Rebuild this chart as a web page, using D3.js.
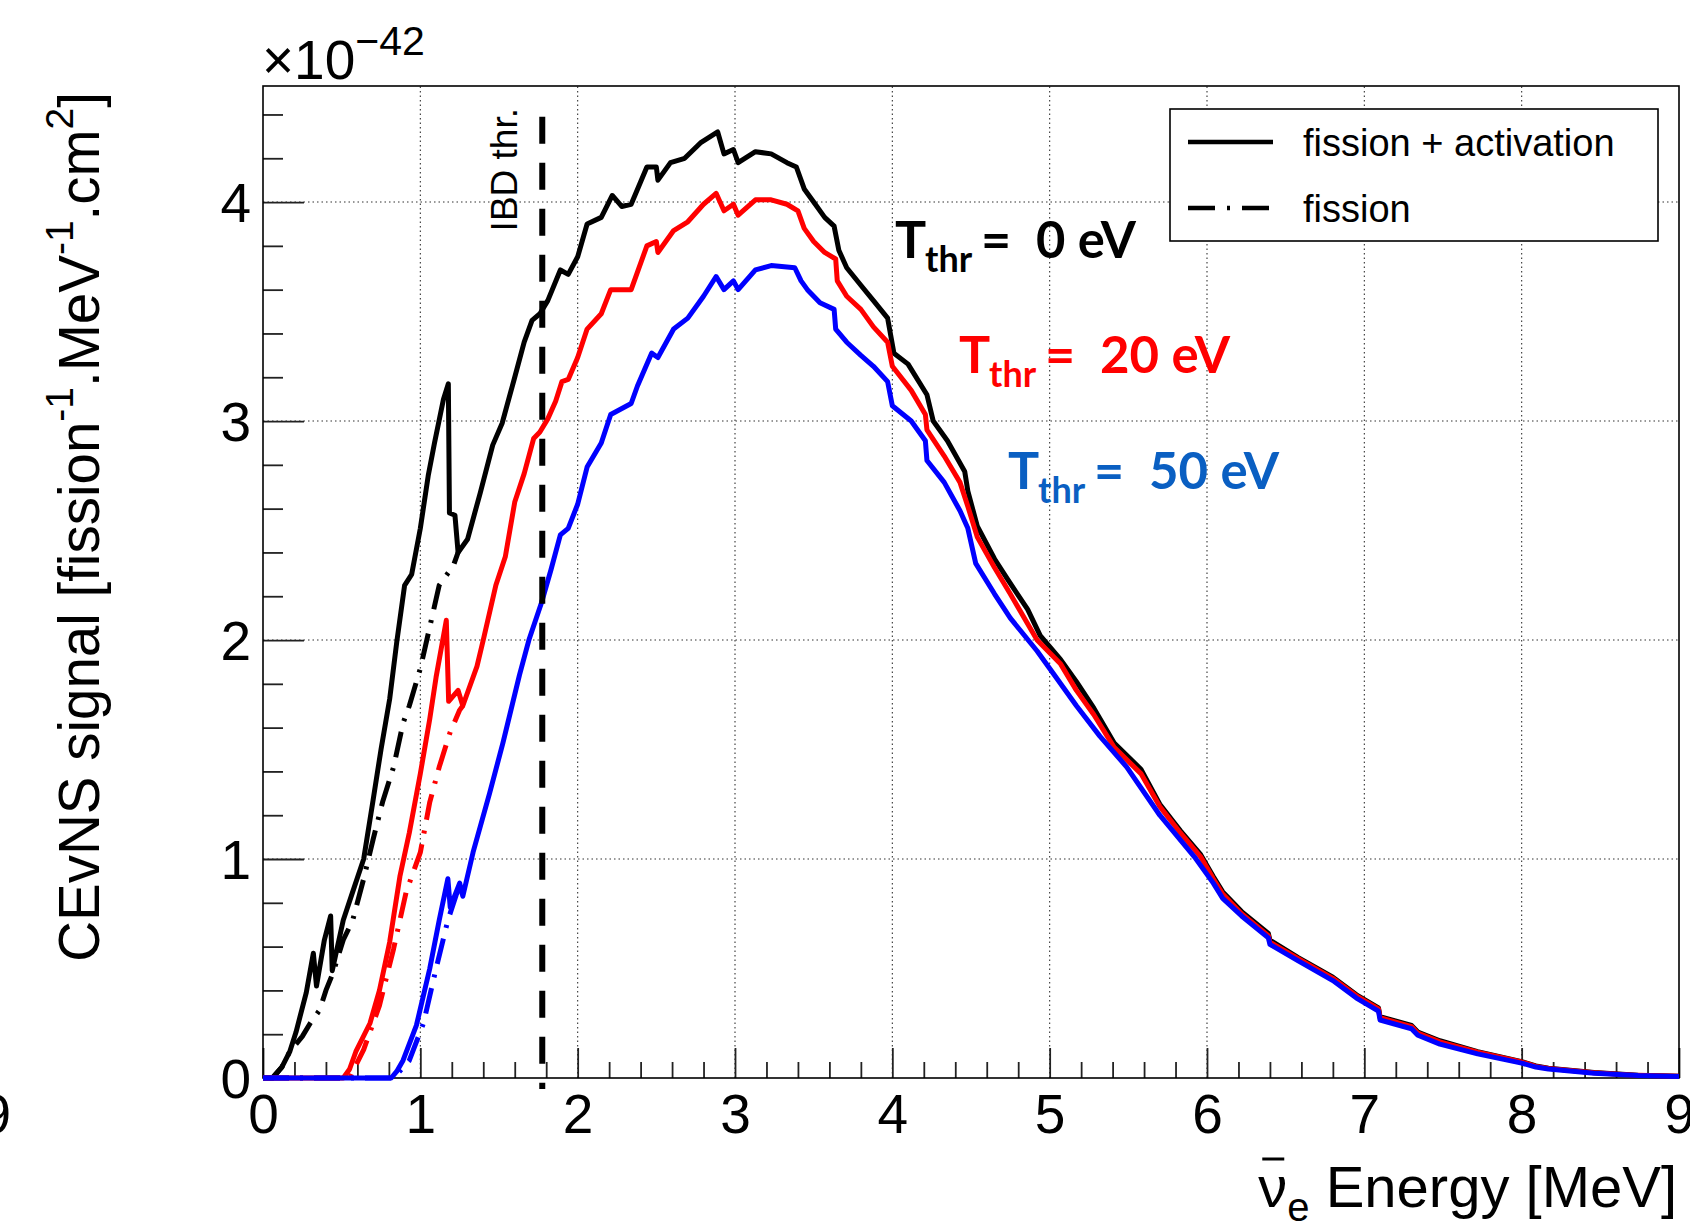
<!DOCTYPE html>
<html lang="en">
<head>
<meta charset="UTF-8" />
<title>CEvNS signal</title>
<style>
  body { margin: 0; background: #fff; }
  svg { display: block; }
</style>
</head>
<body>
<svg id="chart" width="1690" height="1222"></svg>
<script src="https://cdn.jsdelivr.net/npm/d3@7"></script>
<script>
  // [energy MeV, signal x1e-42]
  const t0Total = [[0,0],[0.06,0],[0.12,0.05],[0.17,0.12],[0.21,0.21],[0.275,0.39],[0.32,0.57],[0.34,0.42],[0.39,0.63],[0.43,0.74],[0.44,0.49],[0.51,0.72],[0.57,0.85],[0.64,1.0],[0.70,1.27],[0.75,1.50],[0.805,1.73],[0.85,1.99],[0.90,2.25],[0.945,2.30],[1.0,2.51],[1.05,2.75],[1.09,2.90],[1.147,3.10],[1.178,3.17],[1.185,2.58],[1.22,2.57],[1.24,2.40],[1.30,2.46],[1.38,2.67],[1.46,2.89],[1.52,2.99],[1.60,3.20],[1.66,3.36],[1.71,3.46],[1.76,3.49],[1.81,3.55],[1.89,3.69],[1.94,3.67],[2.0,3.75],[2.06,3.90],[2.15,3.93],[2.22,4.03],[2.28,3.98],[2.34,3.99],[2.44,4.16],[2.50,4.16],[2.51,4.10],[2.59,4.18],[2.68,4.20],[2.78,4.27],[2.89,4.32],[2.93,4.22],[2.99,4.24],[3.02,4.18],[3.13,4.23],[3.23,4.22],[3.33,4.18],[3.39,4.16],[3.44,4.06],[3.50,4.00],[3.57,3.93],[3.63,3.89],[3.66,3.78],[3.71,3.70],[3.80,3.62],[3.88,3.55],[3.97,3.47],[4.01,3.31],[4.10,3.26],[4.22,3.12],[4.26,3.0],[4.35,2.91],[4.46,2.77],[4.48,2.68],[4.54,2.52],[4.65,2.37],[4.73,2.28],[4.86,2.14],[4.94,2.02],[5.07,1.91],[5.17,1.81],[5.28,1.69],[5.41,1.53],[5.58,1.41],[5.70,1.25],[5.83,1.13],[5.96,1.02],[6.04,0.92],[6.10,0.85],[6.22,0.76],[6.39,0.66],[6.40,0.63],[6.58,0.55],[6.80,0.46],[6.95,0.38],[7.09,0.32],[7.10,0.28],[7.30,0.24],[7.34,0.21],[7.48,0.17],[7.72,0.12],[8.0,0.075],[8.09,0.055],[8.17,0.045],[8.46,0.025],[8.74,0.013],[9.0,0.008]];
  const t20Total = [[0,0],[0.51,0],[0.55,0.04],[0.59,0.12],[0.68,0.25],[0.74,0.40],[0.805,0.62],[0.87,0.92],[0.93,1.12],[1.0,1.39],[1.06,1.64],[1.10,1.83],[1.165,2.09],[1.18,1.72],[1.24,1.77],[1.27,1.70],[1.36,1.88],[1.40,2.0],[1.48,2.25],[1.54,2.38],[1.60,2.63],[1.66,2.76],[1.72,2.92],[1.76,2.95],[1.81,3.01],[1.86,3.09],[1.90,3.18],[1.94,3.19],[2.0,3.29],[2.06,3.42],[2.15,3.49],[2.21,3.60],[2.34,3.60],[2.44,3.80],[2.50,3.82],[2.51,3.77],[2.61,3.87],[2.70,3.91],[2.80,3.99],[2.88,4.04],[2.93,3.96],[2.99,3.99],[3.02,3.94],[3.13,4.01],[3.23,4.01],[3.33,3.99],[3.40,3.96],[3.44,3.88],[3.50,3.82],[3.57,3.77],[3.64,3.74],[3.65,3.64],[3.71,3.57],[3.80,3.51],[3.88,3.43],[3.97,3.36],[4.0,3.25],[4.12,3.14],[4.21,3.03],[4.22,2.96],[4.33,2.84],[4.43,2.72],[4.48,2.61],[4.54,2.47],[4.65,2.33],[4.75,2.21],[4.92,2.0],[5.07,1.89],[5.17,1.77],[5.28,1.66],[5.41,1.51],[5.58,1.39],[5.70,1.24],[5.83,1.12],[5.96,1.01],[6.04,0.91],[6.10,0.84],[6.22,0.75],[6.39,0.65],[6.40,0.62],[6.58,0.545],[6.80,0.455],[6.95,0.375],[7.09,0.315],[7.10,0.275],[7.30,0.235],[7.34,0.205],[7.48,0.165],[7.72,0.118],[8.0,0.073],[8.09,0.053],[8.17,0.044],[8.46,0.024],[8.74,0.012],[9.0,0.008]];
  const t50Total = [[0,0],[0.815,0],[0.85,0.03],[0.89,0.08],[0.975,0.24],[1.06,0.50],[1.12,0.72],[1.175,0.91],[1.19,0.78],[1.25,0.89],[1.27,0.83],[1.335,1.03],[1.44,1.30],[1.525,1.53],[1.63,1.84],[1.69,2.0],[1.77,2.17],[1.83,2.32],[1.89,2.48],[1.94,2.51],[2.0,2.62],[2.06,2.79],[2.15,2.90],[2.21,3.03],[2.34,3.08],[2.38,3.16],[2.47,3.31],[2.51,3.29],[2.61,3.42],[2.70,3.47],[2.80,3.57],[2.88,3.66],[2.93,3.60],[2.99,3.64],[3.02,3.60],[3.13,3.69],[3.23,3.71],[3.38,3.70],[3.42,3.64],[3.46,3.60],[3.54,3.54],[3.63,3.51],[3.64,3.42],[3.71,3.36],[3.80,3.30],[3.88,3.25],[3.97,3.18],[4.0,3.07],[4.12,3.0],[4.21,2.91],[4.22,2.82],[4.33,2.72],[4.43,2.59],[4.48,2.51],[4.53,2.35],[4.65,2.21],[4.75,2.10],[4.92,1.95],[5.03,1.84],[5.17,1.70],[5.32,1.56],[5.49,1.42],[5.70,1.20],[5.92,1.01],[6.04,0.89],[6.10,0.82],[6.22,0.74],[6.39,0.64],[6.40,0.61],[6.58,0.535],[6.80,0.445],[6.95,0.365],[7.09,0.305],[7.10,0.265],[7.30,0.225],[7.34,0.195],[7.48,0.155],[7.72,0.11],[8.0,0.068],[8.09,0.05],[8.17,0.041],[8.46,0.022],[8.74,0.011],[9.0,0.007]];
  // fission only: differs from the totals below ~1.3 MeV only
  const t0Fission = [[0,0],[0.06,0],[0.12,0.05],[0.17,0.12],[0.25,0.19],[0.30,0.25],[0.36,0.31],[0.40,0.40],[0.445,0.48],[0.51,0.63],[0.57,0.72],[0.64,0.91],[0.70,1.09],[0.76,1.26],[0.83,1.42],[0.89,1.62],[0.93,1.70],[1.0,1.87],[1.06,2.06],[1.12,2.25],[1.21,2.34],[1.24,2.40]];
  const t20Fission = [[0,0],[0.55,0],[0.64,0.13],[0.74,0.33],[0.83,0.59],[0.91,0.85],[1.0,1.03],[1.06,1.26],[1.12,1.42],[1.19,1.58],[1.25,1.68],[1.27,1.70]];
  const t50Fission = [[0,0],[0.83,0],[0.93,0.08],[1.02,0.25],[1.10,0.50],[1.175,0.72],[1.23,0.84],[1.27,0.89]];

  const ibdThreshold = 1.775;
  const xTicks = [0, 1, 2, 3, 4, 5, 6, 7, 8, 9];
  const yTicks = [0, 1, 2, 3, 4];
  const thresholds = ["0", "20", "50"];
  const legendLabels = ["fission + activation", "fission"];

  let svg = d3.select("#chart");
  let x = d3.scaleLinear().domain([0, 9]).range([263, 1679]);
  let y = d3.scaleLinear().domain([0, 4.53]).range([1078, 86]);
  const rootFont = "'Liberation Sans', Arial, Helvetica, sans-serif";

  // grid
  let grid = svg.append("g").attr("stroke", "#333").attr("stroke-width", 1.1).attr("stroke-dasharray", "1.5,3");
  grid.selectAll(".gx").data(xTicks.slice(1, -1)).enter().append("line")
    .attr("x1", d => x(d)).attr("x2", d => x(d)).attr("y1", y.range()[0]).attr("y2", y.range()[1]);
  grid.selectAll(".gy").data(yTicks.slice(1)).enter().append("line")
    .attr("y1", d => y(d)).attr("y2", d => y(d)).attr("x1", x.range()[0]).attr("x2", x.range()[1]);

  // minor ticks
  let xMinor = d3.range(0, 9.001, 0.2).filter(v => Math.abs(v - Math.round(v)) > 0.01);
  let yMinor = d3.range(0, 4.53, 0.2).filter(v => Math.abs(v - Math.round(v)) > 0.01);

  svg.append("g").attr("transform", `translate(0,${y(0)})`)
    .call(d3.axisBottom(x).tickValues(xTicks).tickSize(-30).tickPadding(16).tickFormat(d3.format("d")));
  svg.append("g").attr("transform", `translate(0,${y(0)})`)
    .call(d3.axisBottom(x).tickValues(xMinor).tickSize(-16).tickFormat(""));
  let yAxis = svg.append("g").attr("transform", `translate(${x(0)},0)`)
    .call(d3.axisLeft(y).tickValues(yTicks).tickSize(-41).tickPadding(12).tickFormat(d3.format("d")));
  svg.append("g").attr("transform", `translate(${x(0)},0)`)
    .call(d3.axisLeft(y).tickValues(yMinor).tickSize(-20).tickFormat(""));
  svg.selectAll(".domain").remove();
  svg.selectAll(".tick line").attr("stroke", "#222").attr("stroke-width", 1.8);
  svg.selectAll(".tick text").attr("font-family", rootFont).attr("font-size", 55).attr("fill", "#000");
  yAxis.selectAll(".tick text").attr("dy", "0.36em");

  // frame
  svg.append("rect").attr("x", x(0)).attr("y", y.range()[1]).attr("width", x(9) - x(0)).attr("height", y(0) - y.range()[1])
    .attr("fill", "none").attr("stroke", "#000").attr("stroke-width", 1.6);

  // curves
  let line = d3.line().x(d => x(d[0])).y(d => y(d[1]));
  let curves = [
    { data: t0Fission, color: "#000000", dash: "26,11,3,11" },
    { data: t0Total, color: "#000000", dash: null },
    { data: t20Fission, color: "#ff0000", dash: "26,11,3,11" },
    { data: t20Total, color: "#ff0000", dash: null },
    { data: t50Fission, color: "#0000ff", dash: "26,11,3,11" },
    { data: t50Total, color: "#0000ff", dash: null }
  ];
  svg.append("g").selectAll("path").data(curves).enter().append("path")
    .attr("d", d => line(d.data)).attr("fill", "none").attr("stroke", d => d.color)
    .attr("stroke-width", 5).attr("stroke-linejoin", "round")
    .attr("stroke-dasharray", d => d.dash);

  // IBD threshold
  svg.append("line").attr("x1", x(ibdThreshold)).attr("x2", x(ibdThreshold))
    .attr("y1", y(4.39)).attr("y2", y(-0.05))
    .attr("stroke", "#000").attr("stroke-width", 6).attr("stroke-dasharray", "27,19");
  svg.append("text").attr("transform", `translate(${x(ibdThreshold) - 25},108) rotate(-90)`)
    .attr("text-anchor", "end").attr("font-family", rootFont).attr("font-size", 37).text("IBD thr.");

  // x10^-42
  let exp = svg.append("text").attr("x", 262).attr("y", 79).attr("font-family", rootFont).attr("font-size", 55);
  exp.append("tspan").text("\u00d710");
  exp.append("tspan").attr("font-size", 41).attr("dy", -24).text("\u221242");

  // stray label cut at the left edge
  svg.append("text").attr("x", 11).attr("y", 1133).attr("text-anchor", "end")
    .attr("font-family", rootFont).attr("font-size", 55).text("9");

  // y title
  let yt = svg.append("text").attr("transform", "translate(99,92) rotate(-90)")
    .attr("text-anchor", "end").attr("font-family", rootFont).attr("font-size", 56.5);
  yt.append("tspan").text("CEvNS signal [fission");
  yt.append("tspan").attr("font-size", 39).attr("dy", -26).text("-1");
  yt.append("tspan").attr("dy", 26).text(".MeV");
  yt.append("tspan").attr("font-size", 39).attr("dy", -26).text("-1");
  yt.append("tspan").attr("dy", 26).text(".cm");
  yt.append("tspan").attr("font-size", 39).attr("dy", -26).text("2");
  yt.append("tspan").attr("dy", 26).text("]");

  // x title
  let xt = svg.append("text").attr("x", 1677).attr("y", 1207).attr("text-anchor", "end")
    .attr("font-family", rootFont).attr("font-size", 58);
  xt.append("tspan").text("\u03bd");
  xt.append("tspan").attr("font-size", 40).attr("dy", 14).text("e");
  xt.append("tspan").attr("dy", -14).text(" Energy [MeV]");
  let nu = xt.node().getExtentOfChar(0);
  svg.append("line").attr("x1", nu.x + 4).attr("x2", nu.x + nu.width - 3)
    .attr("y1", 1207 - 48).attr("y2", 1207 - 48).attr("stroke", "#000").attr("stroke-width", 3);

  // legend
  let lg = svg.append("g");
  lg.append("rect").attr("x", 1170).attr("y", 109).attr("width", 488).attr("height", 132)
    .attr("fill", "#fff").attr("stroke", "#000").attr("stroke-width", 1.6);
  let entries = lg.selectAll(".entry").data(legendLabels).enter().append("g")
    .attr("transform", (d, i) => `translate(0,${142 + i * 66})`);
  entries.append("line").attr("x1", 1188).attr("x2", 1273).attr("stroke", "#000").attr("stroke-width", 4.5)
    .attr("stroke-dasharray", (d, i) => i ? "27,12,3,12" : null);
  entries.append("text").attr("x", 1303).attr("y", 14).attr("font-family", rootFont).attr("font-size", 38).text(d => d);

  // threshold annotations
  let notes = [
    { x: 895, y: 258, color: "#000000" },
    { x: 959, y: 373, color: "#ff0000" },
    { x: 1008, y: 489, color: "#0a5fc2" }
  ];
  notes.forEach((n, i) => {
    let t = svg.append("text").attr("y", n.y).attr("font-family", "Lato, 'Open Sans', sans-serif")
      .attr("font-weight", "bold").attr("font-size", 52).attr("fill", n.color);
    t.append("tspan").attr("x", n.x).text("T");
    t.append("tspan").attr("x", n.x + 30).attr("dy", 14).attr("font-size", 36).text("thr");
    t.append("tspan").attr("x", n.x + 86).attr("dy", -14).text("=");
    let val = t.append("tspan").attr("x", n.x + 141).text(thresholds[i] + " eV");
    // widths of the original text box
    val.attr("textLength", i ? 130 : 100).attr("lengthAdjust", "spacingAndGlyphs");
  });
</script>
</body>
</html>
